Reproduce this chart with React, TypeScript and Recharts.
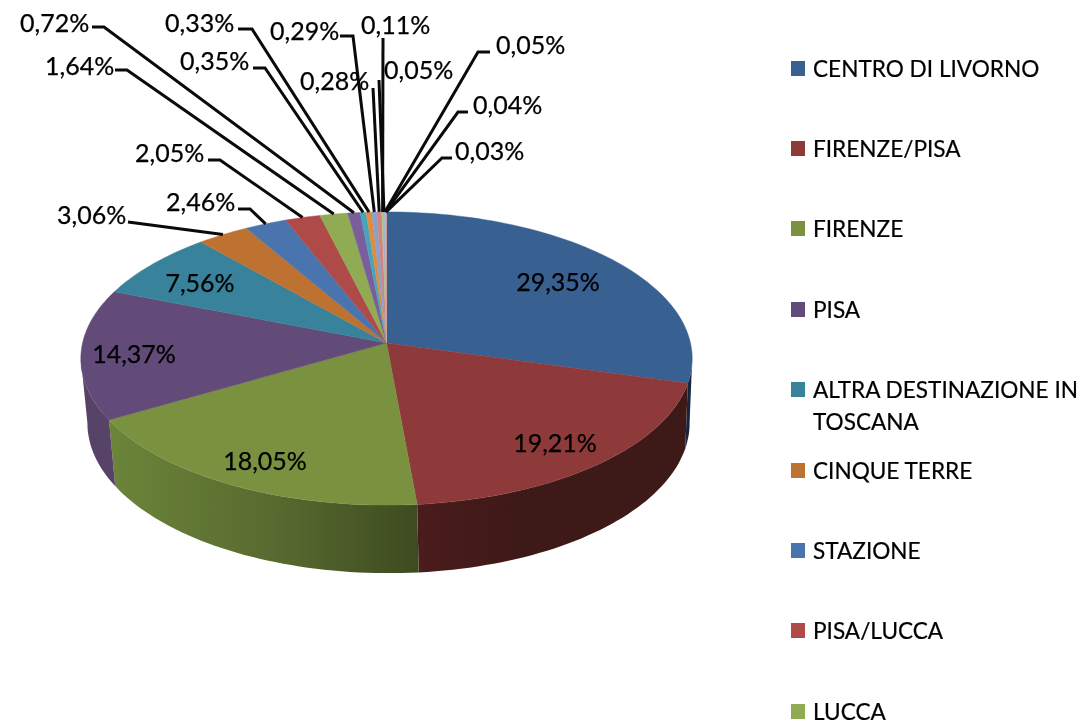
import React from "react";
import { PieChart, Pie, Legend } from "recharts";

const destinations = [
    "CENTRO DI LIVORNO", "FIRENZE/PISA", "FIRENZE", "PISA", "ALTRA DESTINAZIONE IN TOSCANA",
    "CINQUE TERRE", "STAZIONE", "PISA/LUCCA", "LUCCA",
    "", "", "", "", "", "", "", "", "", "",
];
const shares = [29.35, 19.21, 18.05, 14.37, 7.56, 3.06, 2.46, 2.05, 1.64, 0.72, 0.35, 0.33, 0.29, 0.28, 0.11, 0.05, 0.05, 0.04, 0.03];
const sliceColors = [
    "#386192", "#8e3a3a", "#7a9140", "#624b78", "#38839b", "#bd7231", "#4a74ad", "#ae4a48", "#90ab53", "#7a5d9b",
    "#46a5bd", "#dd8d3f", "#8aa0cc", "#cf8482", "#b3c58a", "#a99bbd", "#8ec6d6", "#f0aa78", "#d9a0a0",
];

const data = shares.map((share, i) => ({ name: destinations[i], value: share, fill: sliceColors[i] }));

// text start x, text middle y, then the elbow of the leader line (no elbow for labels inside the pie)
const labelSpots: number[][] = [
    [558, 281], [555, 442], [265, 460], [134, 353], [200, 282],
    [57, 214, 128, 222],
    [166, 201, 238, 209, 250, 209],
    [135, 152, 208, 160, 220, 160],
    [45, 65, 115, 70, 127, 70],
    [20, 22, 92, 27, 104, 27],
    [180, 60, 253, 68, 265, 68],
    [165, 22, 238, 29, 252, 29],
    [270, 30, 340, 36, 353, 36],
    [300, 80, 373, 88],
    [361, 24, 383, 38],
    [384, 69, 379, 80],
    [496, 44, 490, 52, 478, 52],
    [473, 104, 468, 112, 458, 112],
    [455, 150, 452, 158, 442, 158],
];

const CX = 386.5;
const CY = 343;
const RX = 304;
const RY = 145;
const TILT = 0.1058;

// angle as recharts gives it (degrees, counter-clockwise from east) to the tilted disc
const rim = (angle: number) => {
    const t = ((90 - angle) * Math.PI) / 180;
    const u = Math.sin(t);
    const v = -Math.cos(t);
    const w = 1 - TILT * v;
    return { x: CX + (RX * u) / w, y: CY + (RY * v) / w, v };
};
const foot = (angle: number) => {
    const p = rim(angle);
    return { x: CX + 2 + (p.x - CX) * 0.985, y: p.y + 64 + 4 * Math.max(p.v, 0) };
};

const sampleAngles = (from: number, to: number) => {
    const steps = Math.max(2, Math.ceil(Math.abs(from - to) / 1.5));
    const out: number[] = [];
    for (let i = 0; i <= steps; i++) out.push(from + ((to - from) * i) / steps);
    return out;
};

const toPath = (pts: { x: number; y: number }[]) =>
    pts.map((p, i) => `${i ? "L" : "M"}${p.x.toFixed(1)},${p.y.toFixed(1)}`).join(" ") + " Z";

const wallFill: Record<string, string> = {
    "#386192": "#16263f",
    "#8e3a3a": "url(#wallRed)",
    "#7a9140": "url(#wallGreen)",
    "#624b78": "#574268",
};

function TiltedSlice(props: any) {
    const { startAngle, endAngle, fill } = props;
    const angles = sampleAngles(startAngle, endAngle);
    // front of the disc only: clockwise 96deg to 264deg
    const wallFrom = Math.min(startAngle, 90 - 96);
    const wallTo = Math.max(endAngle, 90 - 264);
    return (
        <g>
            {wallFill[fill] && wallFrom > wallTo && (
                <path
                    d={toPath([
                        ...sampleAngles(wallFrom, wallTo).map(rim),
                        ...sampleAngles(wallTo, wallFrom).map(foot),
                    ])}
                    fill={wallFill[fill]}
                />
            )}
            <path d={toPath([{ x: CX, y: CY }, ...angles.map(rim)])} fill={fill} stroke={fill} strokeWidth={0.4} />
        </g>
    );
}

const formatShare = (value: number) => `${value.toFixed(2).replace(".", ",")}%`;

function SliceLabel(props: any) {
    const { index, value, midAngle } = props;
    const spot = labelSpots[index];
    const end = rim(midAngle);
    const line = [];
    for (let i = 2; i < spot.length; i += 2) line.push(`${spot[i]},${spot[i + 1]}`);
    line.push(`${end.x.toFixed(1)},${end.y.toFixed(1)}`);
    return (
        <g>
            {spot.length > 2 && <polyline points={line.join(" ")} fill="none" stroke="#0a0a0a" strokeWidth={3} />}
            <text x={spot[0]} y={spot[1]} dominantBaseline="central" textAnchor={index < 5 ? "middle" : "start"}
                fontFamily="Lato" fontSize={25} fill="#000" stroke="#000" strokeWidth={0.25}>
                {formatShare(value)}
            </text>
        </g>
    );
}

function DestinationLegend({ payload }: any) {
    return (
        <div style={{ position: "relative", width: 297, height: 725 }}>
            {(payload || []).filter((item: any) => item.value).map((item: any, i: number) => (
                <div key={item.value} style={{
                    position: "absolute", left: 0, top: 52.5 + i * 80.4, width: 297, lineHeight: "32px",
                    fontFamily: "Lato", fontSize: 22.6, color: "#000", paddingLeft: 23, boxSizing: "border-box",
                    WebkitTextStroke: "0.2px #000",
                }}>
                    <span style={{ position: "absolute", left: 1, top: 8, width: 14, height: 15, background: item.color }} />
                    {item.value}
                </div>
            ))}
        </div>
    );
}

export default function App() {
    return (
        <div style={{ position: "absolute", left: 0, top: 0, width: 1088, height: 725, overflow: "hidden", background: "#fff", filter: "blur(0.45px)" }}>
            <PieChart width={1088} height={725} margin={{ top: 0, right: 0, bottom: 0, left: 0 }}>
                <defs>
                    <linearGradient id="wallGreen" x1="0" y1="0" x2="1" y2="0">
                        <stop offset="0%" stopColor="#6b8539" />
                        <stop offset="55%" stopColor="#58692f" />
                        <stop offset="100%" stopColor="#3d4b20" />
                    </linearGradient>
                    <linearGradient id="wallRed" x1="0" y1="0" x2="1" y2="0">
                        <stop offset="0%" stopColor="#4b1c1c" />
                        <stop offset="40%" stopColor="#3d1917" />
                        <stop offset="100%" stopColor="#3d1a17" />
                    </linearGradient>
                </defs>
                <Pie
                    data={data}
                    dataKey="value"
                    nameKey="name"
                    cx={CX}
                    cy={CY}
                    outerRadius={RX}
                    startAngle={90}
                    endAngle={-270}
                    stroke="none"
                    shape={TiltedSlice}
                    label={SliceLabel}
                    labelLine={false}
                    isAnimationActive={false}
                />
                <Legend content={DestinationLegend} itemSorter={null} layout="vertical" align="left" verticalAlign="top"
                    wrapperStyle={{ left: 790, top: 0, width: 298 }} />
            </PieChart>
        </div>
    );
}
